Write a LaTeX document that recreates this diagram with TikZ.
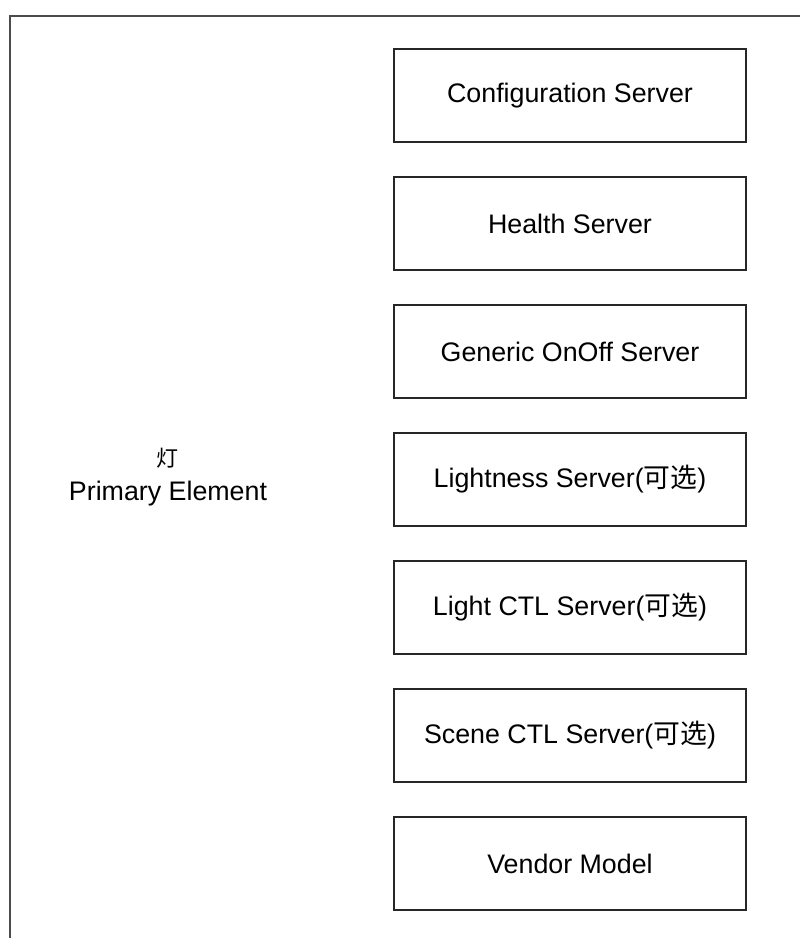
\documentclass[tikz,border=0pt]{standalone}
\usepackage{fontspec}
\setmainfont{Liberation Sans}
\newfontfamily\cjk{Noto Sans CJK SC}
\tikzset{
  modelbox/.style={draw=black!85, line width=1.5pt, minimum width=352pt, minimum height=93pt,
    inner sep=0pt, font=\fontsize{26.8}{32}\selectfont},
  frameline/.style={draw=black!70, line width=2pt},
  lbl/.style={inner sep=0pt, font=\fontsize{26.8}{32}\selectfont, align=center}
}
\begin{document}
\begin{tikzpicture}[x=1pt,y=1pt]
\useasboundingbox (0,0) rectangle (800,938);
\begin{scope}
\clip (0,0) rectangle (800,938);
\coordinate (fbl) at (9.5,-10);
\coordinate (ftr) at (810,922);
\draw[frameline] (fbl) |- (ftr);
\end{scope}
\node[modelbox] (b1) at (570,842.5) {Configuration Server};
\node[modelbox] (b2) at (570,714.5) {Health Server};
\node[modelbox] (b3) at (570,586.5) {Generic OnOff Server};
\node[modelbox] (b4) at (570,458.5) {Lightness Server({\cjk 可选})};
\node[modelbox] (b5) at (570,330.5) {Light CTL Server({\cjk 可选})};
\node[modelbox] (b6) at (570,202.5) {Scene CTL Server({\cjk 可选})};
\node[modelbox] (b7) at (570,74.5) {Vendor Model};
\node[lbl] (pe) at (168,461) {{\cjk\fontsize{22}{26}\selectfont 灯}\\[2pt]Primary Element};
\end{tikzpicture}
\end{document}
